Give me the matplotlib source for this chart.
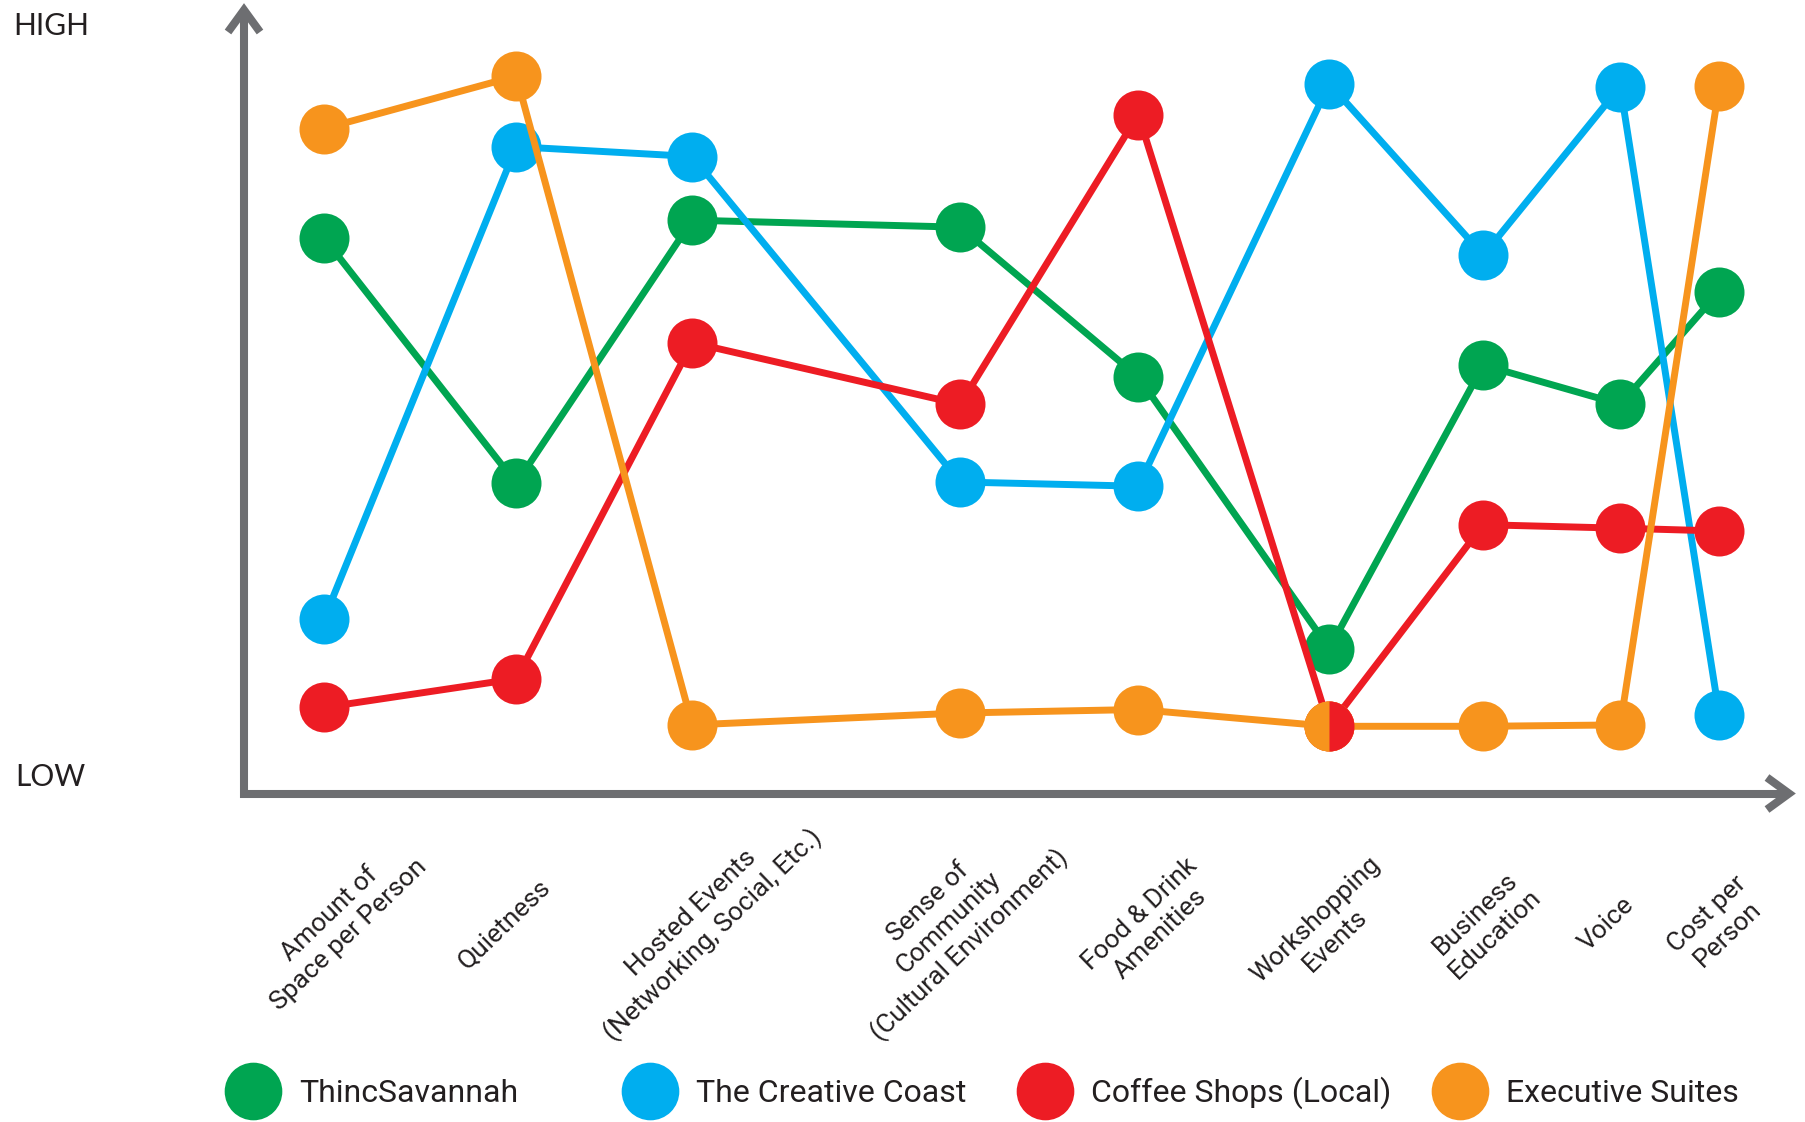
import matplotlib
matplotlib.use("Agg")
import matplotlib.pyplot as plt
import matplotlib.transforms as mtrans
from matplotlib import font_manager

# ---------------- data ----------------
categories = [
    "Amount of\nSpace per Person",
    "Quietness",
    "Hosted Events\n(Networking, Social, Etc.)",
    "Sense of\nCommunity\n(Cultural Environment)",
    "Food & Drink\nAmenities",
    "Workshopping\nEvents",
    "Business\nEducation",
    "Voice",
    "Cost per\nPerson",
]
cat_x = [0.0, 1.92, 3.68, 6.36, 8.14, 10.05, 11.59, 12.96, 13.95]

thinc = [7.93, 4.43, 8.19, 8.09, 5.95, 2.07, 6.12, 5.56, 7.17]
creative = [2.50, 9.24, 9.10, 4.45, 4.39, 10.14, 7.69, 10.10, 1.12]
coffee = [1.23, 1.64, 6.44, 5.56, 9.70, 0.96, 3.84, 3.79, 3.75]
executive = [9.50, 10.25, 0.98, 1.15, 1.20, 0.96, 0.96, 0.98, 10.11]

series_names = ["ThincSavannah", "The Creative Coast", "Coffee Shops (Local)", "Executive Suites"]

# ---------------- style ----------------
GREEN = "#00a551"
BLUE = "#00aeef"
RED = "#ed1c24"
ORANGE = "#f7941d"
GRAY = "#6d6e71"
TEXT = "#231f20"

names = {f.name for f in font_manager.fontManager.ttflist}
label_font = "Roboto" if "Roboto" in names else "DejaVu Sans"
head_font = "Lato" if "Lato" in names else "DejaVu Sans"

W, H = 1805, 1122
fig = plt.figure(figsize=(W / 100, H / 100), dpi=100)

# pixel geometry of plot area
x0_px, xaxis_px = 243.0, 793.5
unit_x, unit_y = 100.0, 70.0
first_cat_px = 324.3
right_px = 1795.0

ax = fig.add_axes([x0_px / W, (H - xaxis_px) / H, (right_px - x0_px) / W, xaxis_px / H])
ax.set_xlim((x0_px - first_cat_px) / unit_x, (right_px - first_cat_px) / unit_x)
ax.set_ylim(0, xaxis_px / unit_y)
for s in ax.spines.values():
    s.set_visible(False)
ax.set_yticks([])
ax.patch.set_alpha(0)

lw = 5.0
ms = 36
order = [(thinc, GREEN), (creative, BLUE), (coffee, RED), (executive, ORANGE)]
for z, (vals, col) in enumerate(order):
    ax.plot(cat_x, vals, color=col, lw=lw, marker="o", ms=ms, mec="none",
            mfc=col, clip_on=False, zorder=3 + z, solid_capstyle="round")

# split marker where Coffee Shops and Executive Suites coincide
ws = 5
ax.plot([cat_x[ws]], [coffee[ws]], marker="o", ms=ms, fillstyle="left",
        mfc=ORANGE, mfcalt=RED, mec="none", ls="none", clip_on=False, zorder=10)

# category tick labels
ax.set_xticks(cat_x)
ax.set_xticklabels(categories, rotation=44, ha="center", va="center",
                   rotation_mode="anchor", multialignment="center",
                   fontsize=19, fontfamily=label_font, fontweight="normal",
                   color=TEXT, linespacing=1.25)
ax.tick_params(axis="x", length=0, pad=94)
label_dx = [15, -12, 10, -11, 12, -4, 2, -14, -2]
label_dy = [0, 0, 0, 0, 0, -6, 0, 0, 0]
for lab, dx, dy in zip(ax.get_xticklabels(), label_dx, label_dy):
    lab.set_transform(lab.get_transform() + mtrans.ScaledTranslation(dx / 100, dy / 100, fig.dpi_scale_trans))

# overlay for axis arrows, HIGH/LOW and legend
ov = fig.add_axes([0, 0, 1, 1], zorder=0)
ov.set_xlim(0, W)
ov.set_ylim(H, 0)
ov.axis("off")
ov.patch.set_alpha(0)

alw = 5.8
ov.plot([x0_px + 1, x0_px + 1], [xaxis_px + 4, 10], color=GRAY, lw=alw, solid_capstyle="butt")
ov.plot([x0_px - 3, 1788], [xaxis_px, xaxis_px], color=GRAY, lw=alw, solid_capstyle="butt")
ov.plot([x0_px + 1 - 16, x0_px + 1, x0_px + 1 + 16], [32, 10, 32], color=GRAY, lw=alw,
        solid_joinstyle="miter", solid_capstyle="butt")
ov.plot([1767, 1789, 1767], [xaxis_px - 16, xaxis_px, xaxis_px + 16], color=GRAY, lw=alw,
        solid_joinstyle="miter", solid_capstyle="butt")

ov.text(13, 35, "HIGH", fontsize=21.5, fontfamily=head_font, color=TEXT, va="baseline", ha="left")
ov.text(15, 786, "LOW", fontsize=21.5, fontfamily=head_font, color=TEXT, va="baseline", ha="left")

leg_cx = [253, 650, 1045, 1460]
leg_cols = [GREEN, BLUE, RED, ORANGE]
for cx, col, name in zip(leg_cx, leg_cols, series_names):
    ov.plot([cx], [1091], marker="o", ms=41.5, mfc=col, mec="none", ls="none", clip_on=False)
    ov.text(cx + 46, 1101.5, name, fontsize=23, fontfamily=label_font, fontweight="normal",
            color=TEXT, va="baseline", ha="left")

fig.savefig("out.png", dpi=100, facecolor="white")
